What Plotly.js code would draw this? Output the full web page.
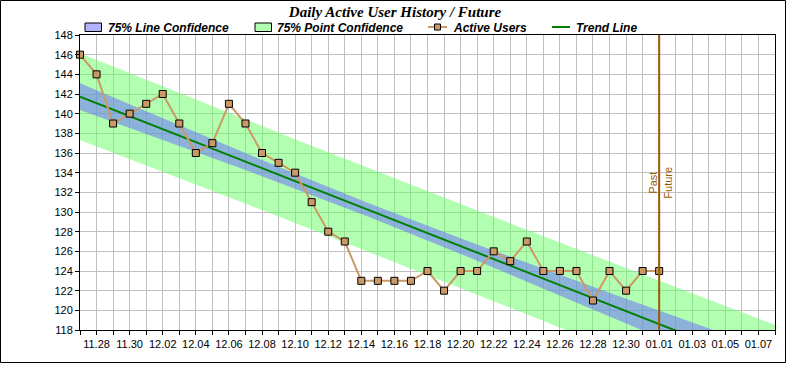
<!DOCTYPE html>
<html>
<head>
<meta charset="utf-8">
<script src="https://cdn.plot.ly/plotly-3.0.1.min.js"></script>
<style>
html,body{margin:0;padding:0;background:#fff;}
#chart{width:790px;height:365px;}
</style>
</head>
<body>
<div id="chart"></div>
<script>
// ---- data ----
const dates = [
  '2023-11-27','2023-11-28','2023-11-29','2023-11-30',
  '2023-12-01','2023-12-02','2023-12-03','2023-12-04','2023-12-05','2023-12-06','2023-12-07',
  '2023-12-08','2023-12-09','2023-12-10','2023-12-11','2023-12-12','2023-12-13','2023-12-14',
  '2023-12-15','2023-12-16','2023-12-17','2023-12-18','2023-12-19','2023-12-20','2023-12-21',
  '2023-12-22','2023-12-23','2023-12-24','2023-12-25','2023-12-26','2023-12-27','2023-12-28',
  '2023-12-29','2023-12-30','2023-12-31','2024-01-01'
];
const activeUsers = [
  146,144,139,140,
  141,142,139,136,137,141,139,
  136,135,134,131,128,127,123,
  123,123,123,124,122,124,124,
  126,125,127,124,124,124,121,
  124,122,124,124
];
const axisStart = '2023-11-27';
const axisEnd = '2024-01-08';
const futureStart = '2024-01-01';
const yMin = 118, yMax = 148;
const confidenceLevelT = 1.168;   // Student t for 75% two-sided, n-2 dof
const legendLabels = ['75% Line Confidence','75% Point Confidence','Active Users','Trend Line'];
const titleText = 'Daily Active User History / Future';

// ---- trend line & confidence bands (least squares on the data) ----
const DAY = 86400000;
const t0 = Date.parse(axisStart);
const xi = dates.map(d => (Date.parse(d) - t0) / DAY);
const n = xi.length;
const mx = xi.reduce((a,b)=>a+b,0)/n;
const my = activeUsers.reduce((a,b)=>a+b,0)/n;
let sxx=0, sxy=0;
for (let i=0;i<n;i++){ sxx+=(xi[i]-mx)*(xi[i]-mx); sxy+=(xi[i]-mx)*(activeUsers[i]-my); }
const slope = sxy/sxx, icpt = my - slope*mx;
let sse=0;
for (let i=0;i<n;i++){ const r = activeUsers[i]-(icpt+slope*xi[i]); sse+=r*r; }
const s = Math.sqrt(sse/(n-2));
const lastDay = (Date.parse(axisEnd)-t0)/DAY;
const bx=[], fit=[], lineLo=[], lineHi=[], ptLo=[], ptHi=[];
const iso = ms => new Date(ms).toISOString().slice(0,10);
for (let k=0;k<=lastDay;k++){
  bx.push(iso(t0 + k*DAY));
  const f = icpt + slope*k;
  const hl = confidenceLevelT*s*Math.sqrt(1/n + (k-mx)*(k-mx)/sxx);
  const hp = confidenceLevelT*s*Math.sqrt(1 + 1/n + (k-mx)*(k-mx)/sxx);
  fit.push(f); lineLo.push(f-hl); lineHi.push(f+hl); ptLo.push(f-hp); ptHi.push(f+hp);
}

const green = 'rgba(102,255,102,0.5)';
const blue = 'rgba(102,102,255,0.5)';
const userColor = '#cc9966';
const trendColor = '#008000';
const markColor = '#9c5800';

const traces = [
  {x:bx, y:ptLo, mode:'lines', line:{width:0,color:green}, showlegend:false, hoverinfo:'skip'},
  {x:bx, y:ptHi, mode:'lines', line:{width:0,color:green}, fill:'tonexty', fillcolor:green, name:legendLabels[1], showlegend:false, hoverinfo:'skip'},
  {x:bx, y:lineLo, mode:'lines', line:{width:0,color:blue}, showlegend:false, hoverinfo:'skip'},
  {x:bx, y:lineHi, mode:'lines', line:{width:0,color:blue}, fill:'tonexty', fillcolor:blue, name:legendLabels[0], showlegend:false, hoverinfo:'skip'},
  {x:bx, y:fit, mode:'lines', line:{width:2,color:trendColor}, name:legendLabels[3], showlegend:false},
  {x:dates, y:activeUsers, mode:'lines+markers', name:legendLabels[2], showlegend:false, cliponaxis:false,
   line:{width:2,color:userColor},
   marker:{symbol:'square', size:7, color:userColor, line:{width:1,color:'#000'}}}
];

// pixel -> paper helpers (plot area 80..775 x 35..330)
const L=80, R=775, T=35, B=330;
const PX = p => (p-L)/(R-L);
const PY = p => (B-p)/(B-T);

const legFont = {family:'Liberation Sans, Arial, sans-serif', size:12, color:'#000', style:'italic', weight:'bold'};
const shapes = [
  // outer frame
  {type:'rect', xref:'paper', yref:'paper', x0:PX(0.5), x1:PX(785.5), y0:PY(362.5), y1:PY(0.5), line:{color:'#000',width:1}, fillcolor:'rgba(0,0,0,0)', layer:'above'},
  // past / future mark line
  {type:'line', xref:'x', yref:'paper', x0:futureStart, x1:futureStart, y0:0, y1:1, line:{color:markColor,width:2}, layer:'above'},
  // legend swatches
  {type:'rect', xref:'paper', yref:'paper', x0:PX(85), x1:PX(101.5), y0:PY(31.5), y1:PY(23), fillcolor:'#b2b2ff', line:{color:'#000',width:1}},
  {type:'rect', xref:'paper', yref:'paper', x0:PX(255), x1:PX(271.5), y0:PY(31.5), y1:PY(23), fillcolor:'#b2ffb2', line:{color:'#000',width:1}},
  {type:'line', xref:'paper', yref:'paper', x0:PX(428), x1:PX(447), y0:PY(27), y1:PY(27), line:{color:userColor,width:2}},
  {type:'rect', xref:'paper', yref:'paper', x0:PX(434.5), x1:PX(440.5), y0:PY(30), y1:PY(24), fillcolor:userColor, line:{color:'#000',width:1}},
  {type:'line', xref:'paper', yref:'paper', x0:PX(552), x1:PX(570), y0:PY(27), y1:PY(27), line:{color:trendColor,width:2}}
];

const annotations = [
  {xref:'paper', yref:'paper', x:PX(106), y:PY(27.5), xanchor:'left', yanchor:'middle', showarrow:false, text:legendLabels[0], font:legFont},
  {xref:'paper', yref:'paper', x:PX(275), y:PY(27.5), xanchor:'left', yanchor:'middle', showarrow:false, text:legendLabels[1], font:legFont},
  {xref:'paper', yref:'paper', x:PX(451), y:PY(27.5), xanchor:'left', yanchor:'middle', showarrow:false, text:legendLabels[2], font:legFont},
  {xref:'paper', yref:'paper', x:PX(574), y:PY(27.5), xanchor:'left', yanchor:'middle', showarrow:false, text:legendLabels[3], font:legFont},
  {xref:'x', yref:'paper', x:futureStart, y:0.5, xanchor:'center', yanchor:'middle', xshift:-7, textangle:-90, showarrow:false, text:'Past',
   font:{family:'Liberation Sans, Arial, sans-serif', size:11, color:markColor}},
  {xref:'x', yref:'paper', x:futureStart, y:0.5, xanchor:'center', yanchor:'middle', xshift:8, textangle:-90, showarrow:false, text:'Future',
   font:{family:'Liberation Sans, Arial, sans-serif', size:11, color:markColor}}
];

const tickFont = {family:'Liberation Sans, Arial, sans-serif', size:11, color:'#000'};
const layout = {
  width:790, height:365,
  margin:{l:L, r:790-R, t:T, b:365-B, pad:0},
  paper_bgcolor:'#fff', plot_bgcolor:'#fff',
  showlegend:false,
  title:{text:titleText, xref:'container', yref:'container', x:0.5, y:1-12/365, xanchor:'center', yanchor:'middle',
         font:{family:'Liberation Serif, Times New Roman, serif', size:15, color:'#000', style:'italic', weight:'bold'}},
  xaxis:{type:'date', range:[axisStart, axisEnd], tick0:'2023-11-28', dtick:2*DAY, tickformat:'%m.%d',
         ticks:'outside', ticklen:4, tickcolor:'#000', tickfont:tickFont,
         showgrid:true, gridcolor:'#c0c0c0', gridwidth:1,
         showline:true, linecolor:'#000', linewidth:1, mirror:true, zeroline:false,
         minor:{tick0:axisStart, dtick:DAY, ticks:'outside', ticklen:4, tickcolor:'#000', showgrid:true, gridcolor:'#c0c0c0', gridwidth:1}},
  yaxis:{range:[yMin, yMax], dtick:2, tick0:118, ticks:'outside', ticklen:4, tickcolor:'#000', tickfont:tickFont,
         showgrid:true, gridcolor:'#c0c0c0', gridwidth:1,
         showline:true, linecolor:'#000', linewidth:1, mirror:true, zeroline:false},
  shapes:shapes,
  annotations:annotations
};

Plotly.newPlot('chart', traces, layout, {staticPlot:true, displayModeBar:false});
</script>
</body>
</html>
